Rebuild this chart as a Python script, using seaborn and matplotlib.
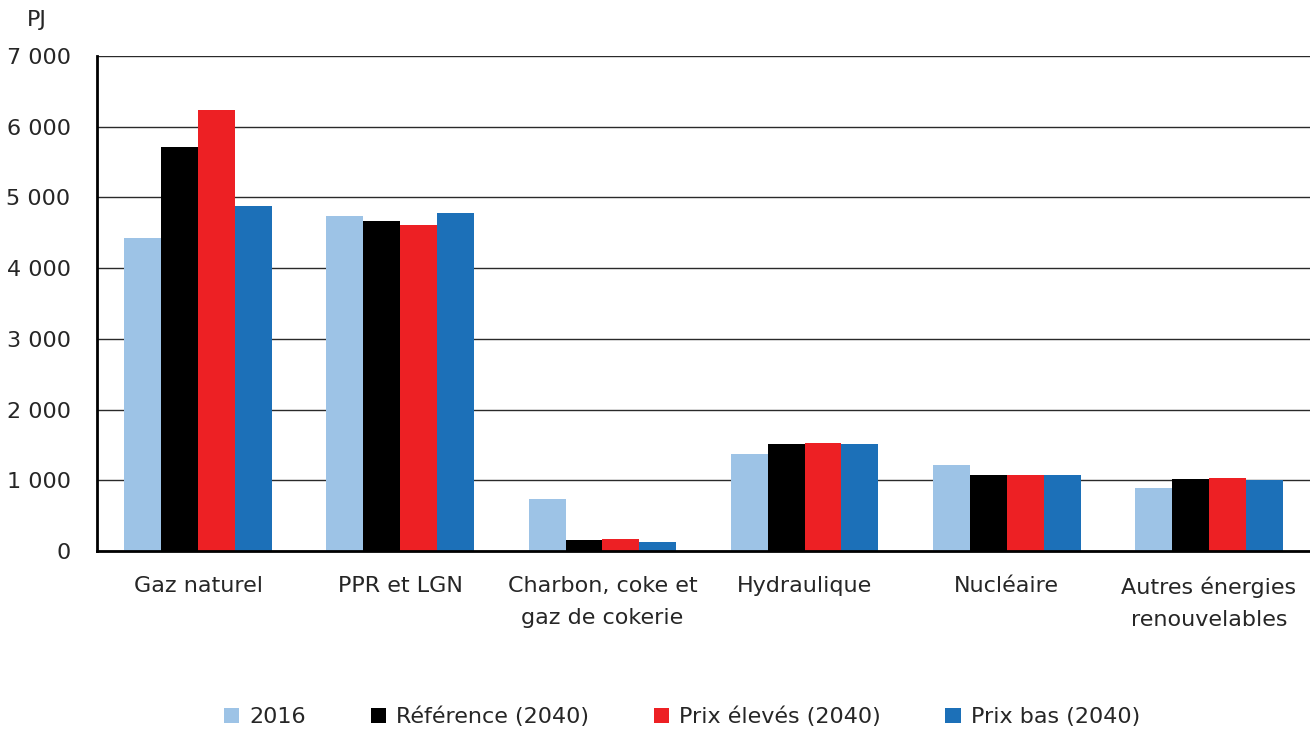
import matplotlib
matplotlib.use("Agg")
import matplotlib.pyplot as plt
import matplotlib.ticker as mticker
from matplotlib.patches import Patch
import seaborn as sns
import pandas as pd

categories = ["Gaz naturel", "PPR et LGN", "Charbon, coke et\ngaz de cokerie",
              "Hydraulique", "Nucléaire", "Autres énergies\nrenouvelables"]
series = ["2016", "Référence (2040)", "Prix élevés (2040)", "Prix bas (2040)"]
v2016 = [4420, 4740, 740, 1370, 1210, 890]
vref = [5710, 4670, 150, 1520, 1075, 1025]
vhigh = [6240, 4605, 165, 1525, 1075, 1030]
vlow = [4875, 4775, 130, 1512, 1075, 1010]
colors = ["#9DC3E6", "#000000", "#ED2024", "#1C70B8"]

rows = []
for s, vals in zip(series, [v2016, vref, vhigh, vlow]):
    for c, v in zip(categories, vals):
        rows.append({"cat": c, "series": s, "value": v})
df = pd.DataFrame(rows)

sns.set_theme(style="white")
plt.rcParams['font.family'] = ['DejaVu Sans']
FS = 16

fig = plt.figure(figsize=(13.10, 7.29), dpi=100)
ax = fig.add_axes([97/1310, 1-551/729, 1-97/1310, (551-56)/729])

sns.barplot(data=df, x="cat", y="value", hue="series", order=categories,
            hue_order=series, palette=colors, width=0.73, gap=0,
            edgecolor="none", linewidth=0, saturation=1, ax=ax, legend=False)

ax.set_ylim(0, 7000)
ax.set_xlim(-0.5, 5.5)
ax.yaxis.set_major_locator(mticker.MultipleLocator(1000))
ax.yaxis.set_major_formatter(mticker.FuncFormatter(lambda v, p: f"{int(v):,}".replace(",", " ")))
ax.grid(axis="y", color="#2a2a2a", linewidth=1.0)
ax.set_axisbelow(True)

ax.set_xticks([i - 0.5 for i in range(7)])
ax.set_xticklabels([])
ax.set_xticks(range(6), minor=True)
ax.set_xticklabels(categories, minor=True, fontsize=FS, linespacing=1.75)
ax.tick_params(axis="x", which="major", direction="out", length=8, width=2, color="black")
ax.tick_params(axis="x", which="minor", length=0, pad=18)
ax.tick_params(axis="y", direction="out", length=8, width=2, color="black", labelsize=FS, pad=11)
for lbl in ax.get_xticklabels(minor=True):
    lbl.set_verticalalignment("top")

ax.set_xlabel("")
ax.set_ylabel("")
for sp in ["top", "right"]:
    ax.spines[sp].set_visible(False)
for sp in ["left", "bottom"]:
    ax.spines[sp].set_color("black")
    ax.spines[sp].set_linewidth(2)

fig.text(37/1310, 1-20/729, "PJ", fontsize=FS, ha="center", va="center")

handles = [Patch(facecolor=c, edgecolor="none") for c in colors]
fig.legend(handles, series, loc="center", bbox_to_anchor=(682/1310, 1-717/729),
           ncol=4, frameon=False, fontsize=FS, handlelength=0.7, handleheight=0.7,
           handletextpad=0.45, columnspacing=2.9)

fig.savefig("out.png", dpi=100)
